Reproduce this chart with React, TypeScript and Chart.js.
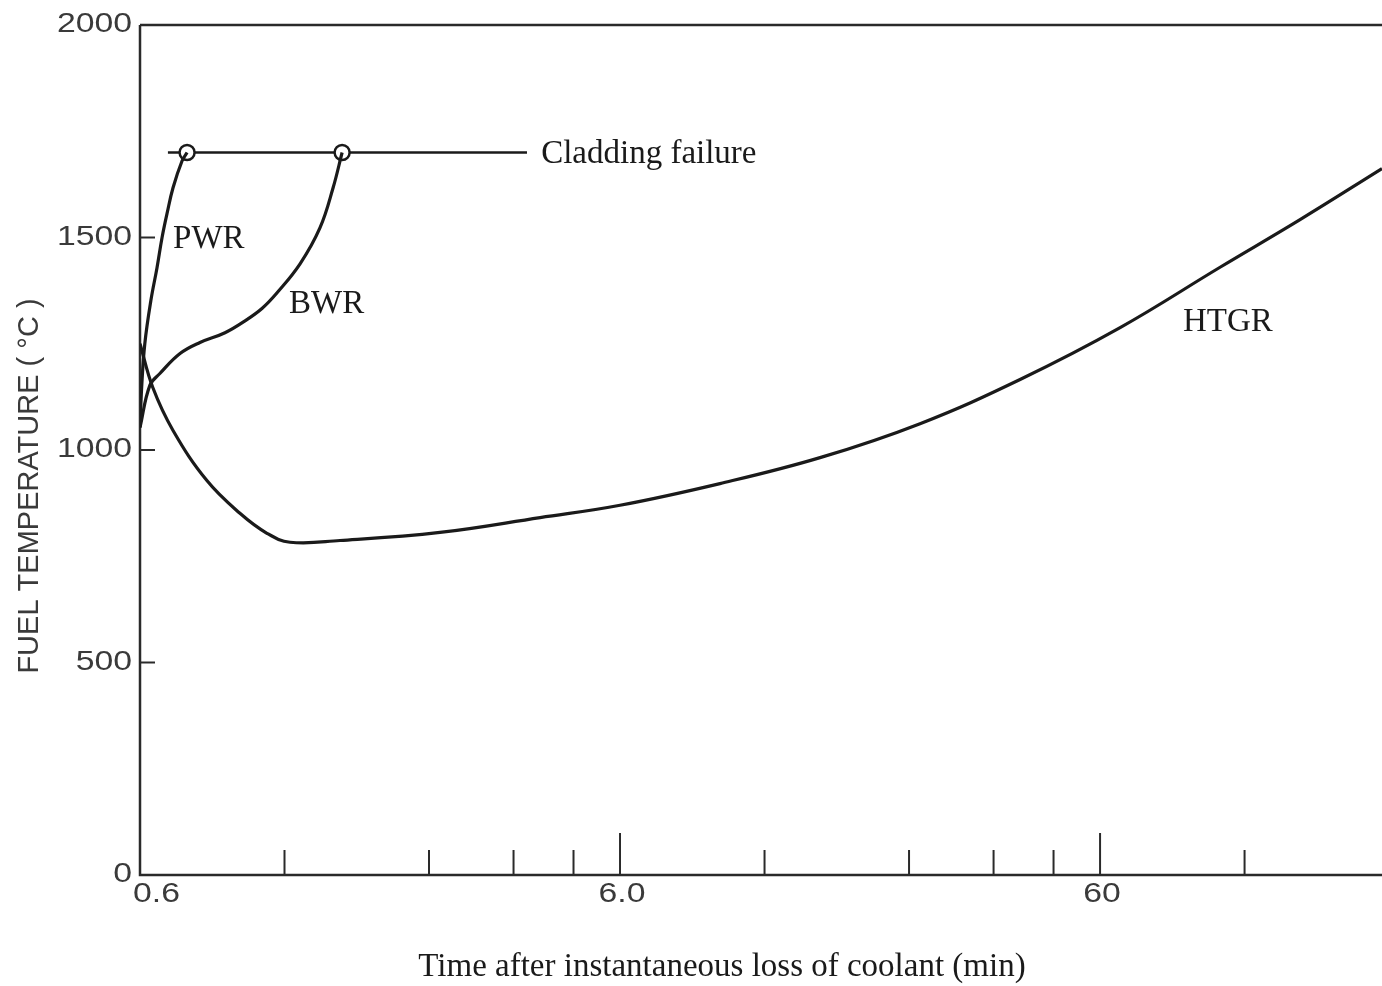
import React, { useEffect, useRef } from "react";
import { Chart, registerables } from "chart.js";

Chart.register(...registerables);

// ---- data ----
const xRange = [0.6, 232];
const yRange = [0, 2000];
const xTickValues = [0.6, 1.2, 2.4, 3.6, 4.8, 6, 12, 24, 36, 48, 60, 120];
const xMajorTicks = [0.6, 6, 60];
const xTickLabels = ["0.6", "6.0", "60"];
const yTickValues = [0, 500, 1000, 1500, 2000];
const yTickLabels = ["0", "500", "1000", "1500", "2000"];

const pwrTime = [0.6, 0.605, 0.614, 0.632, 0.651, 0.667, 0.683, 0.703, 0.734, 0.752];
const pwrTemp = [1053, 1150, 1250, 1351, 1429, 1500, 1556, 1617, 1680, 1700];

const bwrTime = [0.6, 0.629, 0.66, 0.727, 0.8, 0.902, 0.993, 1.077, 1.158, 1.293, 1.423, 1.515, 1.582];
const bwrTemp = [1053, 1152, 1180, 1227, 1253, 1276, 1304, 1333, 1370, 1438, 1523, 1617, 1700];

const htgrTime = [0.6, 0.638, 0.703, 0.827, 0.969, 1.103, 1.232, 1.566, 2.53, 4.09, 6.0, 9.69, 15.66, 25.3, 40.88, 66.06, 106.7, 156.6, 232];
const htgrTemp = [1250, 1147, 1046, 928, 851, 804, 783, 787, 806, 841, 870, 921, 982, 1062, 1166, 1288, 1430, 1542, 1662];

const claddingTime = [0.686, 3.84];
const claddingTemp = [1700, 1700];
const failureTime = [0.752, 1.582];
const failureTemp = [1700, 1700];

const curveLabels = ["PWR", "BWR", "HTGR", "Cladding failure"];
const curveLabelTime = [0.703, 1.226, 89.3, 4.11];
const curveLabelTemp = [1500, 1347, 1304, 1700];

const xTitle = "Time after instantaneous loss of coolant (min)";
const yTitle = "FUEL TEMPERATURE ( °C )";

const pts = (xs: number[], ys: number[]) => xs.map((x, i) => ({ x, y: ys[i] }));

const INK = "#1a1a1a";
const AXIS_INK = "#2a2a2a";
const SANS_INK = "#3a3a3a";

function drawText(
  ctx: CanvasRenderingContext2D,
  s: string,
  x: number,
  y: number,
  font: string,
  color: string,
  align: CanvasTextAlign,
  sx = 1,
  rot = 0
) {
  ctx.save();
  ctx.translate(x, y);
  ctx.rotate(rot);
  ctx.scale(sx, 1);
  ctx.font = font;
  ctx.fillStyle = color;
  ctx.textAlign = align;
  ctx.textBaseline = "middle";
  ctx.fillText(s, 0, 0);
  ctx.restore();
}

const overlay = {
  id: "overlay",
  beforeDatasetsDraw(chart: any) {
    const { ctx, chartArea: a, scales } = chart;
    const x = scales.x;
    const y = scales.y;
    ctx.save();
    ctx.strokeStyle = AXIS_INK;
    ctx.lineWidth = 2.5;
    ctx.beginPath();
    ctx.moveTo(a.left, a.top);
    ctx.lineTo(a.left, a.bottom);
    ctx.lineTo(a.right, a.bottom);
    ctx.moveTo(a.left, a.top);
    ctx.lineTo(a.right, a.top);
    ctx.stroke();

    ctx.lineWidth = 2;
    x.ticks.forEach((t: any, i: number) => {
      if (i === 0) return;
      const px = x.getPixelForValue(t.value);
      const len = xMajorTicks.includes(t.value) ? 42 : 25;
      ctx.beginPath();
      ctx.moveTo(px, a.bottom);
      ctx.lineTo(px, a.bottom - len);
      ctx.stroke();
    });
    y.ticks.forEach((t: any) => {
      if (t.value <= yRange[0] || t.value >= yRange[1]) return;
      const py = y.getPixelForValue(t.value);
      ctx.beginPath();
      ctx.moveTo(a.left, py);
      ctx.lineTo(a.left + 15, py);
      ctx.stroke();
    });
    ctx.restore();
  },
  afterDraw(chart: any) {
    const { ctx, chartArea: a, scales } = chart;
    const x = scales.x;
    const y = scales.y;
    const sans = '27px "Liberation Sans", Arial, sans-serif';
    const serif = '33px "Liberation Serif", "Times New Roman", serif';

    y.ticks.forEach((t: any, i: number) => {
      const py = y.getPixelForValue(t.value);
      drawText(ctx, yTickLabels[i], a.left - 8, py, sans, SANS_INK, "right", 1.25);
    });
    xMajorTicks.forEach((v, i) => {
      const px = x.getPixelForValue(v);
      if (i === 0) {
        drawText(ctx, xTickLabels[i], px - 7, a.bottom + 20, sans, SANS_INK, "left", 1.25);
      } else {
        drawText(ctx, xTickLabels[i], px + 2, a.bottom + 20, sans, SANS_INK, "center", 1.25);
      }
    });

    drawText(ctx, yTitle, 30, (a.top + a.bottom) / 2 + 36, '29px "Liberation Sans", Arial, sans-serif', SANS_INK, "center", 1.0, -Math.PI / 2);
    drawText(ctx, xTitle, 722, a.bottom + 92, serif, INK, "center");

    curveLabels.forEach((s, i) => {
      const px = x.getPixelForValue(curveLabelTime[i]);
      const py = y.getPixelForValue(curveLabelTemp[i]);
      drawText(ctx, s, px, py + 2, serif, INK, "left");
    });
  },
};

export default function App() {
  const ref = useRef<HTMLCanvasElement | null>(null);

  useEffect(() => {
    if (!ref.current) return;
    const lineStyle = {
      borderColor: INK,
      borderWidth: 3.2,
      pointRadius: 0,
      fill: false,
      tension: 0.4,
    };
    const chart = new Chart(ref.current, {
      type: "line",
      data: {
        datasets: [
          { label: "PWR", data: pts(pwrTime, pwrTemp), ...lineStyle },
          { label: "BWR", data: pts(bwrTime, bwrTemp), ...lineStyle },
          { label: "HTGR", data: pts(htgrTime, htgrTemp), ...lineStyle },
          { label: "Cladding failure", data: pts(claddingTime, claddingTemp), ...lineStyle, borderWidth: 2.5, tension: 0, order: 1 },
          {
            label: "failure points",
            data: pts(failureTime, failureTemp),
            showLine: false,
            pointRadius: 7.5,
            pointBackgroundColor: "#ffffff",
            pointBorderColor: INK,
            pointBorderWidth: 2.5,
            order: 0,
          },
        ],
      },
      options: {
        animation: false,
        responsive: false,
        devicePixelRatio: 1,
        layout: { autoPadding: false, padding: { left: 0, top: 25, right: 0, bottom: 0 } },
        plugins: { legend: { display: false }, tooltip: { enabled: false } },
        events: [],
        scales: {
          x: {
            type: "logarithmic",
            min: xRange[0],
            max: xRange[1],
            grid: { display: false },
            border: { display: false },
            ticks: { display: false },
            afterBuildTicks: (s: any) => {
              s.ticks = xTickValues.map((v) => ({ value: v }));
            },
            afterFit: (s: any) => {
              s.height = 111;
            },
          },
          y: {
            type: "linear",
            min: yRange[0],
            max: yRange[1],
            grid: { display: false },
            border: { display: false },
            ticks: { display: false },
            afterBuildTicks: (s: any) => {
              s.ticks = yTickValues.map((v) => ({ value: v }));
            },
            afterFit: (s: any) => {
              s.width = 140;
            },
          },
        },
      },
      plugins: [overlay],
    });
    return () => chart.destroy();
  }, []);

  return (
    <div style={{ position: "fixed", left: 0, top: 0, width: 1382, height: 986, background: "#fff" }}>
      <canvas ref={ref} width={1382} height={986} style={{ display: "block" }} />
    </div>
  );
}
